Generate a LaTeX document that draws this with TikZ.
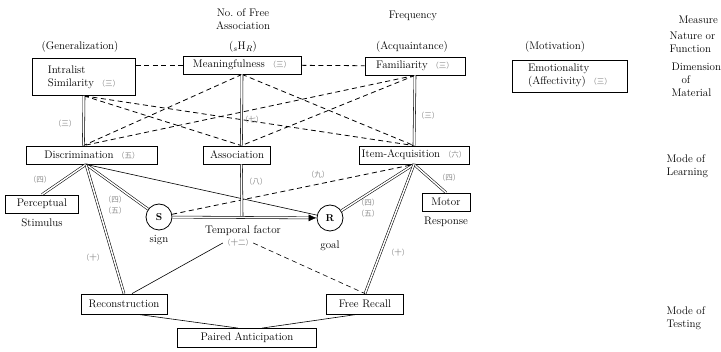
\documentclass[tikz,border=0pt]{standalone}
\usepackage{fontspec}
\newfontfamily\cjkfont{Noto Sans CJK JP}
\usetikzlibrary{arrows.meta,positioning}
\newcommand{\kref}[1]{{\cjkfont\fontsize{7.5}{8}\selectfont\color{black!45}（#1）}}

\begin{document}
\begin{tikzpicture}[x=1pt,y=-1pt,
    font=\fontsize{11}{13}\selectfont,
    box/.style={draw,line width=0.8pt,minimum height=18pt,inner sep=2pt},
    dbl/.style={double,double distance=1.5pt,line width=0.55pt},
    dsh/.style={line width=0.8pt,dash pattern=on 5pt off 3.5pt},
    lbl/.style={font=\cjkfont\fontsize{7.5}{8}\selectfont,text=black!45,inner sep=0pt}]
  \useasboundingbox (0,0) rectangle (721,352);

  % headings
  \node[align=center] (hfree) at (243,19) {No.\ of Free\\Association};
  \node (hfreq) at (413,16) {Frequency};
  \node[anchor=west] (hmeas) at (675,20) {Measure};
  \node[anchor=west,align=left] (rnat) at (666,42) {Nature or\\Function};
  \node[anchor=west,align=left] (rdim) at (668,80) {Dimension\\\hspace{10pt}of\\Material};
  \node[anchor=west,align=left] (rlearn) at (663,166) {Mode of\\Learning};
  \node[anchor=west,align=left] (rtest) at (663,318) {Mode of\\Testing};

  \node (gen) at (80,47) {(Generalization)};
  \node (shr) at (243,47) {(${}_s\mathrm{H}_R$)};
  \node (acq) at (412,47) {(Acquaintance)};
  \node (mot) at (555,47) {(Motivation)};

  % dimensions of material
  \node[box,minimum width=103pt,minimum height=37pt,align=left] (intra) at (84,77) {Intralist\\Similarity \kref{三}};
  \node[box,minimum width=118pt] (mean) at (242,65) {Meaningfulness \kref{三}};
  \node[box,minimum width=100pt] (fam) at (415,66) {Familiarity \kref{三}};
  \node[box,minimum width=115pt,minimum height=32pt,align=left] (emo) at (570,76) {Emotionality\\(Affectivity) \kref{三}};

  % modes of learning
  \node[box,minimum width=131pt] (disc) at (92,155) {Discrimination \kref{五}};
  \node[box,minimum width=67pt] (assoc) at (237,155) {Association};
  \node[box,minimum width=110pt] (item) at (414,155) {Item-Acquisition \kref{六}};
  \node[box,minimum width=73pt] (perc) at (42,204) {Perceptual};
  \node[below=2pt of perc] (stim) {Stimulus};
  \node[box,minimum width=48pt] (motor) at (446,202) {Motor};
  \node[below=2pt of motor] (resp) {Response};
  \node[circle,draw,line width=0.8pt,minimum size=26pt,inner sep=0pt,font=\bfseries] (S) at (159,217) {S};
  \node[below=1pt of S] (sign) {sign};
  \node[circle,draw,line width=0.8pt,minimum size=26pt,inner sep=0pt,font=\bfseries] (R) at (330,218) {R};
  \node[below=6pt of R] (goal) {goal};
  \node (temp) at (243,231) {Temporal factor};

  % modes of testing
  \node[box,minimum width=86pt,minimum height=20pt] (recon) at (124,304) {Reconstruction};
  \node[box,minimum width=77pt,minimum height=20pt] (recall) at (365,304) {Free Recall};
  \node[box,minimum width=139pt,minimum height=19pt] (paired) at (247,338) {Paired Anticipation};

  \coordinate (dtop) at ([xshift=-0.6pt]intra.south |- disc.north);
  \coordinate (atop) at ([xshift=-0.6pt]mean.south |- assoc.north);
  \coordinate (dbot) at ([xshift=-6pt]disc.south);

  % dimension -> learning
  \draw[dsh] (intra.east |- mean) -- (mean);
  \draw[dsh] (mean) -- (fam);
  \draw[dsh] (intra.south) -- (atop);
  \draw[dsh] (intra.south) -- (item.north);
  \draw[dsh] (mean.south) -- (dtop);
  \draw[dsh] (mean.south) -- (item.north);
  \draw[dsh] (fam.south) -- (dtop);
  \draw[dsh] (fam.south) -- (atop);
  \draw[dbl] (intra.south) -- (dtop);
  \draw[dbl] (mean.south) -- (atop);
  \draw[dbl] (fam.south) -- (item.north);

  % learning
  \draw[dbl] (dbot) -- (perc.north);
  \draw[dbl] (dbot) -- (S);
  \draw[dbl] (dbot) -- (recon.north);
  \draw[line width=0.6pt] (dbot) -- (R);
  \draw[dsh] (S) -- (item.south);
  \draw[dbl] (item.south) -- (R);
  \draw[dbl] (item.south) -- (motor.north);
  \draw[dbl] (item.south) -- (recall.north);
  \draw[dbl] (atop |- assoc.south) -- ([xshift=0.6pt]atop |- S);
  \draw[dbl,-{Latex[length=8pt,width=7pt]}] (S) -- (R);

  % testing
  \node[lbl] (k12) at (238,243) {（十二）};
  \draw[line width=0.6pt] ([xshift=8pt]recon.north) -- (k12.west);
  \draw[dsh,line width=0.6pt] (k12.east) -- (recall.north);
  \draw[line width=0.6pt] ([xshift=14pt]recon.south) -- ([xshift=-9pt]paired.north);
  \draw[line width=0.6pt] ([xshift=-8pt]recall.south) -- ([xshift=15pt]paired.north);

  % chapter marks
  \foreach \p/\t [count=\i] in {{(65,124)}/三,{(252,120)}/七,{(428,116)}/三,{(40,180)}/四,
      {(115,200)}/四,{(115,211)}/五,{(256,182)}/八,{(318,175)}/九,{(449,178)}/四,
      {(368,203)}/四,{(368,214)}/五,{(93,258)}/十,{(398,253)}/十}
    \node[lbl] (k\i) at \p {（\t）};
\end{tikzpicture}
\end{document}
